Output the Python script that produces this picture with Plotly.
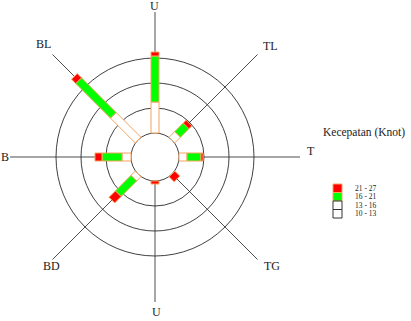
import numpy as np
import plotly.graph_objects as go

# ---- data (frequency %, per speed class) ----
directions = ["U", "TL", "T", "TG", "S", "BD", "B", "BL"]
dir_labels = ["U", "TL", "T", "TG", "U", "BD", "B", "BL"]
angles_deg = [90, 45, 0, -45, -90, -135, 180, 135]   # math angle of each direction
class_names = ["10 - 13", "13 - 16", "16 - 21", "21 - 27"]
v_10_13 = [6.2, 1.6, 1.6, 0.0, 0.0, 1.2, 1.8, 7.0]
v_13_16 = [0.0, 0.0, 0.0, 0.0, 0.0, 0.0, 0.0, 0.0]
v_16_21 = [9.2, 2.4, 2.8, 0.0, 0.0, 4.4, 4.0, 9.8]
v_21_27 = [0.8, 0.8, 0.4, 1.4, 0.6, 1.8, 1.4, 1.2]
ring_values = [5, 10, 15]
legend_labels = ["21 - 27", "16 - 21", "13 - 16", "10 - 13"]

class_values = [v_10_13, v_13_16, v_16_21, v_21_27]
class_fill = ["#FFFFFF", "#FFFFFF", "#00FF00", "#FF0000"]
OUTLINE = "#F4A460"

HOLE = 4.8        # calm circle radius (in % units)
HALF_W = 0.8      # half bar width
AXIS_LEN = 29.0

fig = go.Figure()
shapes = []
# axis lines
for a in angles_deg:
    t = np.radians(a)
    shapes.append(dict(type="line", x0=0, y0=0, x1=AXIS_LEN*np.cos(t), y1=AXIS_LEN*np.sin(t),
                       line=dict(color="#3a3a3a", width=0.9), layer="below"))
# rings
for rv in ring_values:
    r = HOLE + rv
    shapes.append(dict(type="circle", x0=-r, y0=-r, x1=r, y1=r,
                       line=dict(color="#2a2a2a", width=0.9), layer="below"))
# calm circle
shapes.append(dict(type="circle", x0=-HOLE, y0=-HOLE, x1=HOLE, y1=HOLE,
                   line=dict(color="#2a2a2a", width=0.9), fillcolor="white", layer="below"))

# bars
for i, a in enumerate(angles_deg):
    t = np.radians(a)
    d = np.array([np.cos(t), np.sin(t)])
    p = np.array([-np.sin(t), np.cos(t)])
    r0 = HOLE
    for ci, vals in enumerate(class_values):
        v = vals[i]
        if v <= 0:
            continue
        r1 = r0 + v
        pts = [d*r0 + p*HALF_W, d*r1 + p*HALF_W, d*r1 - p*HALF_W, d*r0 - p*HALF_W, d*r0 + p*HALF_W]
        xs = [q[0] for q in pts]
        ys = [q[1] for q in pts]
        fig.add_trace(go.Scatter(x=xs, y=ys, mode="lines", fill="toself",
                                 fillcolor=class_fill[ci],
                                 line=dict(color=OUTLINE, width=1),
                                 hoverinfo="skip", showlegend=False))
        r0 = r1

annotations = []
label_pos = {"U": (-0.2, 30.2), "TL": (23.0, 22.2), "T": (31.2, 1.2), "TG": (23.4, -21.8),
             "S": (0.2, -31.0), "BD": (-20.8, -21.8), "B": (-30.0, 0.0), "BL": (-22.4, 22.6)}
for dname, lab in zip(directions, dir_labels):
    x, y = label_pos[dname]
    annotations.append(dict(x=x, y=y, text=lab, showarrow=False, xref="x", yref="y",
                            xanchor="center", yanchor="middle",
                            font=dict(family="Liberation Serif", size=12, color="#222222")))

W, H = 411, 321
annotations.append(dict(x=363.5/W, y=1-133/H, xref="paper", yref="paper", text="Kecepatan (Knot)",
                        xanchor="center", yanchor="middle",
                        showarrow=False, font=dict(family="Liberation Serif", size=11.5, color="#222222")))
box_fill = ["#FF0000", "#00FF00", "#FFFFFF", "#FFFFFF"]
box_line = [OUTLINE, OUTLINE, "#333333", "#333333"]
for k, lab in enumerate(legend_labels):
    y0 = 184 + k*8.5
    shapes.append(dict(type="rect", xref="paper", yref="paper",
                       x0=333/W, x1=342/W, y0=1-(y0+8.5)/H, y1=1-y0/H,
                       fillcolor=box_fill[k], line=dict(color=box_line[k], width=1)))
    annotations.append(dict(x=353/W, y=1-(y0+4.3)/H, xref="paper", yref="paper", text=lab,
                            xanchor="left", yanchor="middle", showarrow=False,
                            font=dict(family="Liberation Serif", size=7.5, color="#222222")))

fig.update_layout(
    width=W, height=H, margin=dict(l=0, r=0, t=0, b=0),
    paper_bgcolor="white", plot_bgcolor="white",
    xaxis=dict(range=[-155/5, (W-155)/5], visible=False, fixedrange=True),
    yaxis=dict(range=[-(H-157)/5, 157/5], visible=False, fixedrange=True),
    shapes=shapes, annotations=annotations, showlegend=False,
)
fig.write_html("out.html")
